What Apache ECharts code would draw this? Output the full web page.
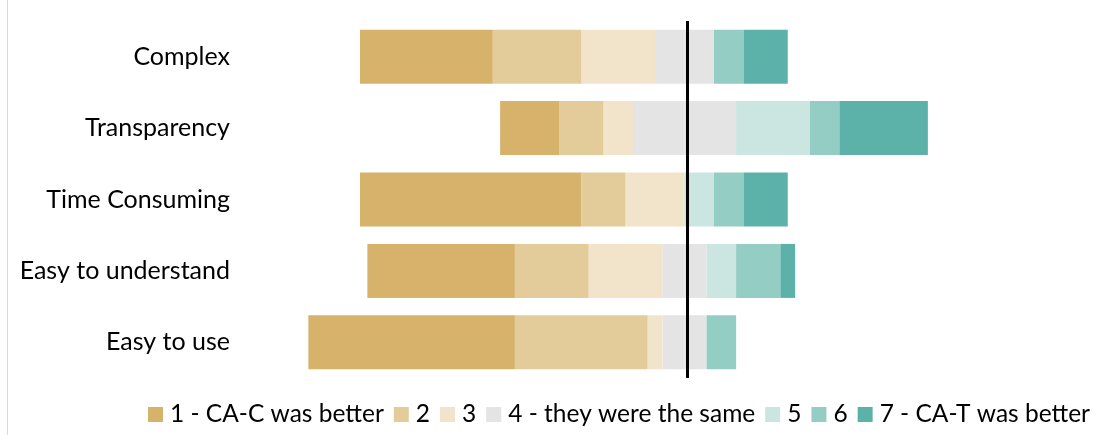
<!DOCTYPE html>
<html>
<head>
<meta charset="utf-8">
<script src="https://cdn.jsdelivr.net/npm/echarts@6/dist/echarts.min.js"></script>
<style>
  html, body { margin: 0; padding: 0; background: #fff; }
  #chart { width: 1096px; height: 435px; }
</style>
</head>
<body>
<div id="chart"></div>
<script>
// Survey items, top to bottom
const categories = ['Complex', 'Transparency', 'Time Consuming', 'Easy to understand', 'Easy to use'];

// Rating scale labels (legend order)
const ratings = ['1 - CA-C was better', '2', '3', '4 - they were the same', '5', '6', '7 - CA-T was better'];

// Number of responses per rating, one value per item
const r1 = [9, 4, 15, 10, 14];
const r2 = [6, 3, 3, 5, 9];
const r3 = [5, 2, 4, 5, 1];
const r4 = [4, 7, 0, 3, 3];
const r5 = [0, 5, 2, 2, 0];
const r6 = [2, 2, 2, 3, 2];
const r7 = [3, 6, 3, 1, 0];

const colors = ['#D6B26A', '#E3CC9A', '#F2E4CA', '#E4E4E4', '#CBE5E1', '#93CDC4', '#5CB2A8'];

const FONT = 'Lato, "Noto Sans", sans-serif';

// Neutral answers are split evenly across the zero line
const neg = arr => arr.map(v => -v);
const half = arr => arr.map(v => v / 2);

function bar(name, data, color) {
  return {
    type: 'bar',
    name: name,
    stack: 'likert',
    data: data,
    barWidth: 54,
    itemStyle: { color: color },
    emphasis: { disabled: true }
  };
}

const series = [
  // left side, stacked outward from zero
  bar(ratings[3], neg(half(r4)), colors[3]),
  bar(ratings[2], neg(r3), colors[2]),
  bar(ratings[1], neg(r2), colors[1]),
  bar(ratings[0], neg(r1), colors[0]),
  // right side
  bar(ratings[3], half(r4), colors[3]),
  bar(ratings[4], r5, colors[4]),
  bar(ratings[5], r6, colors[5]),
  bar(ratings[6], r7, colors[6])
];

// Divider line at the neutral point
series[0].markLine = {
  silent: true,
  symbol: 'none',
  label: { show: false },
  lineStyle: { color: '#000', width: 3, type: 'solid' },
  data: [{ xAxis: 0.18 }]
};

const chart = echarts.init(document.getElementById('chart'), null, { renderer: 'canvas' });
chart.setOption({
  animation: false,
  textStyle: { fontFamily: FONT },
  grid: { left: 242, right: 116.5, top: 21, bottom: 57 },
  xAxis: {
    type: 'value',
    min: -30,
    max: 20,
    show: false
  },
  yAxis: {
    type: 'category',
    data: categories,
    inverse: true,
    axisLine: { show: false },
    axisTick: { show: false },
    splitLine: { show: false },
    axisLabel: { fontSize: 25, color: '#000', margin: 12, fontFamily: FONT }
  },
  legend: {
    data: ratings.map((r, i) => ({ name: r, itemStyle: { color: colors[i] } })),
    left: 148,
    top: 402,
    padding: 0,
    icon: 'rect',
    itemWidth: 15,
    itemHeight: 15,
    itemGap: 10,
    selectedMode: false,
    textStyle: { fontSize: 24.5, color: '#000', fontFamily: FONT, padding: [0, 0, 0, 2] }
  },
  graphic: [{
    type: 'line',
    shape: { x1: 7.5, y1: 0, x2: 7.5, y2: 435 },
    style: { stroke: '#D9D9D9', lineWidth: 1 },
    silent: true
  }],
  series: series
});
</script>
</body>
</html>
